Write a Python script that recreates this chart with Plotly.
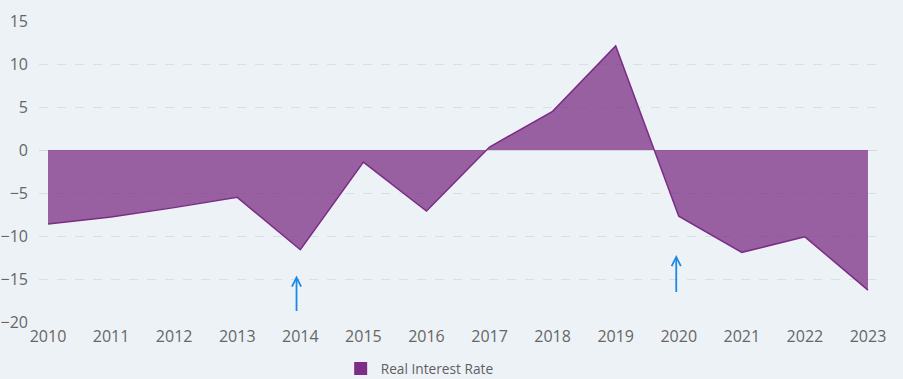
import plotly.graph_objects as go

years = [2010, 2011, 2012, 2013, 2014, 2015, 2016, 2017, 2018, 2019, 2020, 2021, 2022, 2023]
real_rate = [-8.6, -7.8, -6.7, -5.5, -11.6, -1.4, -7.1, 0.35, 4.5, 12.1, -7.7, -11.9, -10.1, -16.3]
series_name = "Real Interest Rate"
y_ticks = [-20, -15, -10, -5, 0, 5, 10, 15]
arrow_years = [2013.94, 2019.96]
arrow_tails = [-18.9, -16.7]
arrow_heads = [-14.6, -12.2]

bg = "#edf2f7"
fig = go.Figure()
fig.add_trace(go.Scatter(
    x=years, y=real_rate, name=series_name, mode="lines",
    fill="tozeroy", fillcolor="rgba(122,44,131,0.74)",
    line=dict(color="#7b2d86", width=1.5), showlegend=False,
))
# legend swatch
fig.add_trace(go.Scatter(
    x=[None], y=[None], name=series_name, mode="markers",
    marker=dict(symbol="square", size=13, color="#7e2d87"), showlegend=True,
))

for xa, yt, yh in zip(arrow_years, arrow_tails, arrow_heads):
    fig.add_annotation(
        x=xa, y=yh, ax=xa, ay=yt, xref="x", yref="y", axref="x", ayref="y",
        showarrow=True, arrowhead=5, arrowsize=1.0, arrowwidth=1.8,
        arrowcolor="#1e88e5", text="",
    )

fig.update_layout(
    width=903, height=379,
    paper_bgcolor=bg, plot_bgcolor=bg,
    margin=dict(l=39, r=26, t=21, b=57, autoexpand=False),
    font=dict(family="Open Sans, DejaVu Sans, sans-serif", color="#666666", size=16),
    showlegend=True,
    legend=dict(orientation="h", x=0.360, xanchor="left", y=-0.155, yanchor="middle",
                font=dict(size=13.7, color="#606060"), bgcolor="rgba(0,0,0,0)",
                itemwidth=30),
    xaxis=dict(range=[2009.857, 2023.143], tickmode="array", tickvals=years,
               ticktext=[str(y) for y in years], showgrid=False, zeroline=False,
               showline=False, ticks="", ticklabelstandoff=3, automargin=False),
    yaxis=dict(range=[-20, 15], tickmode="array", tickvals=y_ticks,
               showgrid=True, gridcolor="#d9dfe6", griddash="dash", gridwidth=1,
               zeroline=True, zerolinecolor="#d0d6de", zerolinewidth=1,
               showline=False, ticks="", ticklabelstandoff=10, automargin=False),
)

fig.write_html("out.html", config={"displayModeBar": False},
               post_script="document.body.style.margin='0';document.body.style.background='%s';" % bg)
